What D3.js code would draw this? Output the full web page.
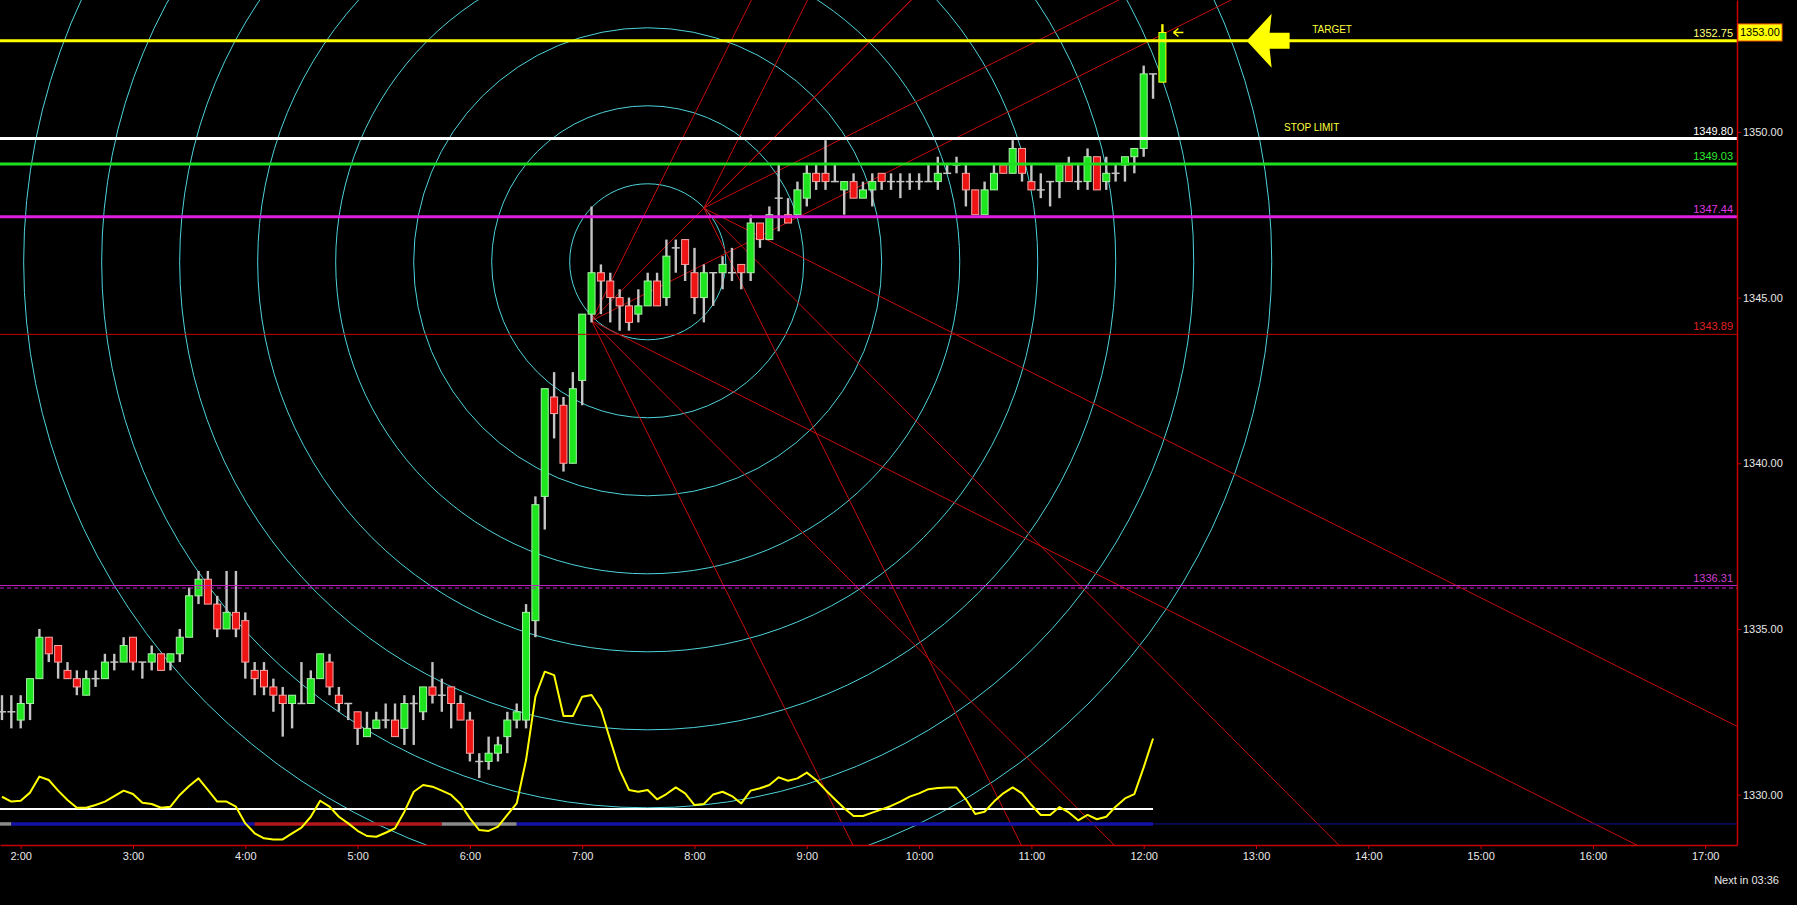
<!DOCTYPE html>
<html>
<head>
<meta charset="utf-8">
<title>5 min chart</title>
<script src="https://cdn.jsdelivr.net/npm/d3@7/dist/d3.min.js"></script>
<style>
  html, body { margin: 0; padding: 0; background: #000; overflow: hidden; }
  svg text { font-family: "Liberation Sans", Arial, sans-serif; font-size: 11px; }
</style>
</head>
<body>
<div id="chart"></div>
<script>
// ---- data (5 minute bars) ----
const barTimes = [
  "1:50","1:55","2:00","2:05","2:10","2:15","2:20","2:25","2:30","2:35",
  "2:40","2:45","2:50","2:55","3:00","3:05","3:10","3:15","3:20","3:25",
  "3:30","3:35","3:40","3:45","3:50","3:55","4:00","4:05","4:10","4:15",
  "4:20","4:25","4:30","4:35","4:40","4:45","4:50","4:55","5:00","5:05",
  "5:10","5:15","5:20","5:25","5:30","5:35","5:40","5:45","5:50","5:55",
  "6:00","6:05","6:10","6:15","6:20","6:25","6:30","6:35","6:40","6:45",
  "6:50","6:55","7:00","7:05","7:10","7:15","7:20","7:25","7:30","7:35",
  "7:40","7:45","7:50","7:55","8:00","8:05","8:10","8:15","8:20","8:25",
  "8:30","8:35","8:40","8:45","8:50","8:55","9:00","9:05","9:10","9:15",
  "9:20","9:25","9:30","9:35","9:40","9:45","9:50","9:55","10:00","10:05",
  "10:10","10:15","10:20","10:25","10:30","10:35","10:40","10:45","10:50","10:55",
  "11:00","11:05","11:10","11:15","11:20","11:25","11:30","11:35","11:40","11:45",
  "11:50","11:55","12:00","12:05","12:10"
];
const opens = [
  1332.5,1332.5,1332.25,1332.75,1333.5,1334.75,1334.5,1333.75,1333.5,1333,
  1333.5,1333.5,1334,1334,1334.75,1334,1334,1334.25,1334,1334.25,
  1334.75,1336,1336.5,1335.75,1335,1335.5,1335.25,1333.75,1333.75,1333.25,
  1333,1332.75,1332.75,1332.75,1333.5,1334,1333,1332.75,1332.5,1331.75,
  1332,1332.25,1332.25,1332,1332.75,1332.5,1333.25,1333,1333.25,1332.75,
  1332.25,1331,1331,1331.25,1331.75,1332.25,1332.25,1335.25,1339,1342,
  1341.75,1340,1342.5,1344.5,1345.75,1345.5,1345,1344.75,1344.5,1344.75,
  1345.5,1345,1346.5,1346.75,1345.75,1345,1345.75,1345.75,1345.75,1346,
  1345.75,1347.25,1346.75,1348,1347.5,1347.5,1348,1348.75,1348.75,1348.5,
  1348.25,1348.5,1348,1348.25,1348.75,1348.5,1348.5,1348.5,1348.5,1348.5,
  1348.5,1348.75,1349,1348.75,1348.25,1347.5,1348.25,1349,1348.75,1349.5,
  1348.5,1348.25,1348.5,1348.5,1349,1348.5,1348.5,1349.25,1348.5,1348.75,
  1349,1349.25,1349.5,1351.75,1351.5
];
const highs = [
  1333,1333,1333,1333.5,1335,1334.75,1334.5,1334,1333.75,1333.75,
  1333.75,1334.25,1334.25,1334.75,1334.75,1334,1334.5,1334.25,1334.25,1335,
  1336.25,1336.75,1336.75,1336,1336.75,1336.75,1335.5,1334,1334,1333.5,
  1333.25,1333,1334,1333.75,1334.25,1334.25,1333.25,1332.75,1332.5,1332.5,
  1332.5,1332.75,1332.75,1333,1333,1333.25,1334,1333.5,1333.25,1333,
  1332.5,1331.25,1331.75,1331.75,1332.5,1332.75,1335.75,1339,1342.25,1342.75,
  1342,1342.75,1344.5,1347.75,1346,1345.75,1345.25,1345,1345.25,1345.75,
  1345.75,1346.75,1346.75,1346.75,1346.5,1346,1345.75,1346.25,1346.5,1346,
  1347.5,1347.25,1347.75,1349,1348,1348.5,1349,1349,1349.75,1349,
  1348.5,1348.75,1348.5,1348.75,1348.75,1348.75,1348.75,1348.75,1348.75,1349,
  1349.25,1349,1349.25,1349,1348.25,1348.5,1349,1349,1349.75,1349.5,
  1349,1348.75,1348.5,1349,1349.25,1349,1349.5,1349.25,1349.25,1349,
  1349.25,1349.5,1352,1351.75,1353.25
];
const lows = [
  1332.25,1332,1332,1332.25,1333.5,1334,1333.5,1333.5,1333,1333,
  1333.25,1333.5,1333.75,1334,1333.75,1333.5,1333.75,1333.75,1333.75,1334,
  1334.75,1335.75,1335.75,1334.75,1335,1334.75,1333.5,1333,1333,1332.5,
  1331.75,1332,1332.75,1332.75,1333.5,1333,1332.5,1332.25,1331.5,1331.75,
  1332,1332,1331.75,1331.5,1331.5,1332.25,1332.75,1332.5,1332,1332.25,
  1331,1330.5,1330.75,1331,1331.25,1332,1332,1334.75,1338,1340.75,
  1339.75,1340,1341.75,1344.25,1344.5,1344.25,1344,1344,1344.25,1344.75,
  1344.75,1344.75,1345.75,1345.5,1344.5,1344.25,1344.75,1345.25,1345.5,1345.25,
  1345.5,1346.5,1346.75,1347,1347.25,1347.5,1347.75,1348.25,1348.25,1348.5,
  1347.5,1348,1348,1347.75,1348.25,1348.25,1348,1348.25,1348.25,1348.5,
  1348.25,1348.75,1348.75,1347.75,1347.5,1347.5,1348.25,1348.75,1348.75,1348.5,
  1348.25,1348,1347.75,1348,1348.5,1348.25,1348.25,1348.25,1348.25,1348.5,
  1348.5,1348.75,1349.25,1351,1351.5
];
const closes = [
  1332.5,1332.5,1332.75,1333.5,1334.75,1334.25,1334,1333.5,1333.25,1333.5,
  1333.5,1334,1334,1334.5,1334,1334,1334.25,1333.75,1334.25,1334.75,
  1336,1336.5,1335.75,1335,1335.5,1335,1334,1333.5,1333.25,1333,
  1332.75,1333,1332.75,1333.5,1334.25,1333.25,1332.75,1332.75,1332,1332,
  1332.25,1332.25,1331.75,1332.75,1332.75,1333.25,1333,1333,1332.75,1332.25,
  1331.25,1331,1331.25,1331.5,1332.25,1332.5,1335.5,1338.75,1342.25,1341.5,
  1340,1342.25,1344.5,1345.75,1345.5,1345,1344.75,1344.25,1344.75,1345.5,
  1344.75,1346.25,1346.5,1346,1345,1345.75,1345.75,1346,1345.75,1345.75,
  1347.25,1346.75,1347.5,1348,1347.25,1348.25,1348.75,1348.5,1348.5,1348.5,
  1348.5,1348,1348.25,1348.5,1348.5,1348.5,1348.5,1348.5,1348.5,1348.5,
  1348.75,1348.75,1349,1348.25,1347.5,1348.25,1348.75,1348.75,1349.5,1348.75,
  1348.25,1348.25,1348.5,1349,1348.5,1348.5,1349.25,1348.25,1348.75,1348.75,
  1349.25,1349.5,1351.75,1351.75,1353
];

// oscillator (yellow line), one value per bar up to 12:05
const oscValues = [
  26.8,24.1,24.6,29.1,38.0,36.1,30.2,25.0,20.7,20.7,
  22.2,24.1,27.2,30.2,28.3,23.5,22.8,20.7,21.3,27.8,
  32.8,37.0,30.6,24.1,24.1,21.3,12.0,6.5,3.7,3.1,
  3.1,6.5,9.6,15.7,24.6,21.3,15.7,12.0,7.9,5.0,
  4.6,6.8,9.3,18.5,29.6,33.3,32.4,30.2,27.8,22.8,
  14.8,8.3,7.8,10.2,16.7,23.1,47.2,82.4,96.3,94.4,
  71.7,71.7,82.4,83.3,75.4,58.3,41.7,30.6,29.6,30.6,
  25.4,28.3,32.0,28.7,22.2,22.8,28.1,29.6,27.2,23.1,
  30.2,31.5,33.3,37.6,35.7,37.0,40.2,36.1,30.6,25.4,
  20.4,16.1,16.1,18.0,19.8,21.7,24.1,26.9,28.7,31.0,
  31.7,31.9,31.9,25.4,17.2,18.5,24.1,28.7,32.0,28.7,
  22.2,16.7,16.7,21.1,18.1,13.7,16.7,14.3,15.7,21.3,
  25.9,28.3,43.1,59.2
];
const oscLevel = 20;

// trend strip under the oscillator
const trendTimes = ["1:50", "1:55", "4:05", "5:45", "6:25", "12:05"];
const trendStates = ["flat", "up", "down", "flat", "up"];

// horizontal levels
const levelPrices = [1352.75, 1349.80, 1349.03, 1347.44, 1343.89, 1336.31];
const levelKinds = ["target", "stop", "green", "magenta", "red", "dotted"];

// tick labels
const priceTicks = [1330, 1335, 1340, 1345, 1350];
const hourTicks = ["2:00","3:00","4:00","5:00","6:00","7:00","8:00","9:00",
  "10:00","11:00","12:00","13:00","14:00","15:00","16:00","17:00"];

// drawing tools
const gannOrigins = [{ time: "7:05", price: 1344.3 }, { time: "8:05", price: 1347.7 }];
const gannRatios = [0.5, 1, 2];
const gannUnit = 0.2833;            // points per bar for the 1x1 line
const circleCenter = { time: "7:35", price: 1346.08 };
const circleStep = 2.354;           // points between rings
const circleCount = 8;

const lastPrice = 1353.00;
const notes = [
  { text: "TARGET", time: "13:30", price: 1352.75 },
  { text: "STOP LIMIT", time: "13:15", price: 1349.80 }
];
const arrowAt = { time: "12:55", price: 1352.75 };

// ---- chart ----
const width = 1797, height = 905;
const plotW = 1737, plotH = 845;

const toMin = s => { const [h, m] = s.split(':').map(Number); return h * 60 + m; };

const x = d3.scaleLinear().domain([108.94, 1037]).range([0, plotW]);
const y = d3.scaleLinear().domain([1328.48, 1353.98]).range([plotH, 0]);
const osc = d3.scaleLinear().domain([0, 100]).range([plotH, plotH - 180]);

const svg = d3.select('#chart')
  .append('svg')
  .attr('width', width)
  .attr('height', height)
  .style('background', '#000')
  .style('display', 'block');

svg.append('defs').append('clipPath').attr('id', 'plot')
  .append('rect').attr('x', 0).attr('y', 0).attr('width', plotW).attr('height', plotH);

const plot = svg.append('g').attr('clip-path', 'url(#plot)');

// Circles
const ccx = x(toMin(circleCenter.time));
const ccy = y(circleCenter.price);
plot.append('g')
  .selectAll('circle')
  .data(d3.range(1, circleCount + 1))
  .join('circle')
  .attr('cx', ccx)
  .attr('cy', ccy)
  .attr('r', k => y(circleCenter.price - k * circleStep) - ccy)
  .attr('fill', 'none')
  .attr('stroke', '#4fd3da')
  .attr('stroke-width', 1);

// Gann fan rays
const reach = 400; // bars
const rays = gannOrigins.flatMap(o => gannRatios.flatMap(r => [1, -1].map(dir => ({ o, r, dir }))));
plot.append('g')
  .selectAll('line')
  .data(rays)
  .join('line')
  .attr('x1', d => x(toMin(d.o.time)))
  .attr('y1', d => y(d.o.price))
  .attr('x2', d => x(toMin(d.o.time) + reach * 5))
  .attr('y2', d => y(d.o.price + d.dir * d.r * gannUnit * reach))
  .attr('stroke', '#c80c0c')
  .attr('stroke-width', 1);

// Candles
const candles = barTimes.map((t, i) => ({
  t: toMin(t), o: opens[i], h: highs[i], l: lows[i], c: closes[i],
  last: i === barTimes.length - 1
}));
const bodyW = 7;
const cg = plot.append('g');

cg.selectAll('.wick')
  .data(candles)
  .join('line')
  .attr('class', 'wick')
  .attr('x1', d => x(d.t)).attr('x2', d => x(d.t))
  .attr('y1', d => y(d.h)).attr('y2', d => y(d.l))
  .attr('stroke', d => d.last ? '#ffff00' : '#c4c4c4')
  .attr('stroke-width', 2.4);

cg.selectAll('.body')
  .data(candles.filter(d => d.o !== d.c))
  .join('rect')
  .attr('class', 'body')
  .attr('x', d => x(d.t) - bodyW / 2)
  .attr('width', bodyW)
  .attr('y', d => y(Math.max(d.o, d.c)))
  .attr('height', d => Math.abs(y(d.o) - y(d.c)))
  .attr('fill', d => d.c > d.o ? '#1ee61e' : '#ee1414')
  .attr('stroke', d => d.last ? '#ffff00' : (d.c > d.o ? '#a8f0a8' : '#f4a8a8'))
  .attr('stroke-width', 1);

cg.selectAll('.doji')
  .data(candles.filter(d => d.o === d.c))
  .join('line')
  .attr('class', 'doji')
  .attr('x1', d => x(d.t) - 4).attr('x2', d => x(d.t) + 4)
  .attr('y1', d => y(d.o)).attr('y2', d => y(d.o))
  .attr('stroke', '#c4c4c4')
  .attr('stroke-width', 1.5);

// Horizontal levels
const levelStyle = {
  target:  { stroke: '#ffff00', w: 3, text: '#ffff7a' },
  stop:    { stroke: '#ffffff', w: 3, text: '#ffffff' },
  green:   { stroke: '#1fe01f', w: 3, text: '#30e830' },
  magenta: { stroke: '#e01ee0', w: 3, text: '#e038e0' },
  red:     { stroke: '#c40000', w: 1, text: '#e02020' },
  dotted:  { stroke: '#c41ec4', w: 1, text: '#d040d0' }
};
const levels = levelPrices.map((p, i) => ({ p, s: levelStyle[levelKinds[i]], kind: levelKinds[i] }));

const lg = svg.append('g');
lg.selectAll('.level')
  .data(levels)
  .join('line')
  .attr('class', 'level')
  .attr('x1', 0).attr('x2', plotW)
  .attr('y1', d => y(d.p)).attr('y2', d => y(d.p))
  .attr('stroke', d => d.s.stroke)
  .attr('stroke-width', d => d.s.w);

lg.selectAll('.level-dash')
  .data(levels.filter(d => d.kind === 'dotted'))
  .join('line')
  .attr('class', 'level-dash')
  .attr('x1', 0).attr('x2', plotW)
  .attr('y1', d => y(d.p) + 2.5).attr('y2', d => y(d.p) + 2.5)
  .attr('stroke', d => d.s.stroke)
  .attr('stroke-dasharray', '4,3')
  .attr('stroke-width', 1);

lg.selectAll('.level-label')
  .data(levels)
  .join('text')
  .attr('class', 'level-label')
  .attr('x', plotW - 4)
  .attr('y', d => y(d.p) - 4)
  .attr('text-anchor', 'end')
  .attr('fill', d => d.s.text)
  .text(d => d.p.toFixed(2));

// Oscillator pane
const og = svg.append('g').attr('clip-path', 'url(#plot)');
const stripY = osc(11.7);

og.append('line')
  .attr('x1', 0).attr('x2', plotW)
  .attr('y1', stripY).attr('y2', stripY)
  .attr('stroke', '#10109a')
  .attr('stroke-width', 1);

const stateColor = { up: '#1212a6', down: '#b41818', flat: '#8a8a8a' };
og.selectAll('.trend')
  .data(trendStates.map((s, i) => ({ s, a: toMin(trendTimes[i]), b: toMin(trendTimes[i + 1]) })))
  .join('line')
  .attr('class', 'trend')
  .attr('x1', d => d.s === 'flat' && d.a === toMin(trendTimes[0]) ? 0 : x(d.a))
  .attr('x2', d => x(d.b))
  .attr('y1', stripY).attr('y2', stripY)
  .attr('stroke', d => stateColor[d.s])
  .attr('stroke-width', 3.5);

og.append('line')
  .attr('x1', 0)
  .attr('x2', x(toMin(barTimes[oscValues.length - 1])))
  .attr('y1', osc(oscLevel)).attr('y2', osc(oscLevel))
  .attr('stroke', '#ffffff')
  .attr('stroke-width', 2);

og.append('path')
  .datum(oscValues)
  .attr('fill', 'none')
  .attr('stroke', '#ffff00')
  .attr('stroke-width', 2)
  .attr('stroke-linejoin', 'round')
  .attr('d', d3.line()
    .x((d, i) => x(toMin(barTimes[i])))
    .y(d => osc(d)));

// Notes and arrows
svg.append('g')
  .selectAll('text')
  .data(notes)
  .join('text')
  .attr('x', d => x(toMin(d.time)))
  .attr('y', d => y(d.price) - 8)
  .attr('fill', '#ffff3c')
  .style('font-size', '10px')
  .text(d => d.text);

const ax = x(toMin(arrowAt.time)), ay = y(arrowAt.price);
svg.append('path')
  .attr('d', `M${ax},${ay} L${ax + 25},${ay - 27} L${ax + 23},${ay - 8} L${ax + 43},${ay - 8}
              L${ax + 43},${ay + 8} L${ax + 23},${ay + 8} L${ax + 25},${ay + 27} Z`)
  .attr('fill', '#ffff00');

const lastBar = candles[candles.length - 1];
const mx = x(lastBar.t) + 11, my = y(lastPrice);
svg.append('path')
  .attr('d', `M${mx},${my} L${mx + 5},${my - 4} M${mx},${my} L${mx + 5},${my + 4} M${mx},${my} L${mx + 10},${my}`)
  .attr('stroke', '#ffff00')
  .attr('stroke-width', 1.5)
  .attr('fill', 'none');

// Axes
const xAxis = d3.axisBottom(x)
  .tickValues(hourTicks.map(toMin))
  .tickFormat((d, i) => hourTicks[i])
  .tickSize(4)
  .tickSizeOuter(0)
  .tickPadding(3);
const yAxis = d3.axisRight(y)
  .tickValues(priceTicks)
  .tickFormat(d3.format('.2f'))
  .tickSize(4)
  .tickSizeOuter(0)
  .tickPadding(2);

const xg = svg.append('g')
  .attr('transform', `translate(0, ${plotH})`)
  .call(xAxis);
const yg = svg.append('g')
  .attr('transform', `translate(${plotW}, 0)`)
  .call(yAxis);

[xg, yg].forEach(g => {
  g.select('.domain').attr('stroke', '#c80000').attr('stroke-width', 1.5);
  g.selectAll('.tick line').attr('stroke', '#c80000');
  g.selectAll('.tick text')
    .attr('fill', '#e8e8e8')
    .style('font-family', '"Liberation Sans", Arial, sans-serif')
    .style('font-size', '11px');
});

// Current price tag
const tagY = y(lastPrice);
yg.append('rect')
  .attr('x', 1).attr('y', tagY - 8.5)
  .attr('width', 44).attr('height', 17)
  .attr('fill', '#ffff00')
  .attr('stroke', '#ff5a00')
  .attr('stroke-width', 1);
yg.append('text')
  .attr('x', 3).attr('y', tagY + 4)
  .attr('fill', '#000')
  .text(lastPrice.toFixed(2));

svg.append('text')
  .attr('x', 1779)
  .attr('y', 884)
  .attr('text-anchor', 'end')
  .attr('fill', '#e8e8e8')
  .text('Next in 03:36');
</script>
</body>
</html>
